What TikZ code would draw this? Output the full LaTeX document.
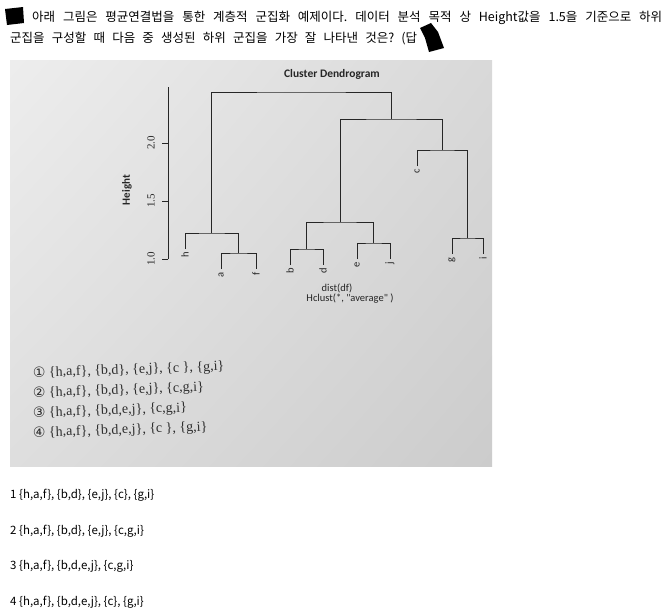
\documentclass[tikz,border=0pt]{standalone}
\usepackage{fontspec}
\usetikzlibrary{shadings}
\setmainfont{Liberation Serif}
\newfontfamily\kr{Noto Sans CJK KR}
\newfontfamily\dsans{Carlito}
\newfontfamily\circfont{DejaVu Sans}
\frenchspacing
\begin{document}
\begin{tikzpicture}[x=1pt,y=-1pt,
  dend/.style={draw=black!85, line width=0.85pt},
  leaflab/.style={font=\dsans\fontsize{10.5}{11}\selectfont, rotate=90, anchor=east, inner sep=0pt, text=black!85},
  ticklab/.style={font=\fontsize{11}{12}\selectfont, rotate=90, inner sep=0pt, text=black!85},
  qtext/.style={font=\kr\fontsize{12.5}{14}\selectfont, anchor=base west, inner sep=0pt},
  opt/.style={font=\kr\fontsize{11.5}{13}\selectfont, anchor=base west, inner sep=0pt},
  popt/.style={font=\fontsize{14}{16}\selectfont, anchor=base west, inner sep=0pt, rotate=2, text=black!82}]
\useasboundingbox (0,0) rectangle (669,614);
\fill[white] (0,0) rectangle (669,614);
% photo background
\shade[upper left=black!7, upper right=black!15, lower left=black!13, lower right=black!20] (10,60) rectangle (492,466);
% question text
\fill[black] (5,9) -- (23,7) -- (24,23) -- (7,25) -- cycle;
\node[qtext] (q1) at (32,21) {\makebox[630pt][s]{아래 그림은 평균연결법을 통한 계층적 군집화 예제이다. 데이터 분석 목적 상 Height값을 1.5을 기준으로 하위}};
\node[qtext] (q2) at (10,42) {\makebox[407pt][s]{군집을 구성할 때 다음 중 생성된 하위 군집을 가장 잘 나타낸 것은? (답}};
\fill[black] (420,28) -- (431,23) -- (438,32) -- (444,48) -- (429,52) -- (425,38) -- cycle;
% title
\node[font=\dsans\bfseries\fontsize{11.5}{13}\selectfont, text=black!85] (title) at (332,74) {Cluster Dendrogram};
% axis
\coordinate (ax0) at (168,259);
\coordinate (ax1) at (168,87);
\draw[dend] (ax0) -- (ax1);
\foreach \yy/\lab in {259/1.0, 201/1.5, 143/2.0}{
  \draw[dend] (168,\yy) -- (162,\yy);
  \node[ticklab] at (151,\yy) {\lab};
}
\node[font=\dsans\bfseries\fontsize{11}{12}\selectfont, rotate=90, text=black!85] (ylab) at (127,190) {Height};
% leaves
\coordinate (h) at (185,249);
\coordinate (a) at (221,269);
\coordinate (f) at (256,269);
\coordinate (b) at (290,265);
\coordinate (d) at (323,265);
\coordinate (e) at (357,259);
\coordinate (j) at (390,259);
\coordinate (c) at (417,166);
\coordinate (g) at (452,254);
\coordinate (i) at (483,254);
% merges
\coordinate (maf) at (238.5,253);
\coordinate (mhaf) at (211.75,233);
\coordinate (mbd) at (306.5,249);
\coordinate (mej) at (373.5,243);
\coordinate (mbdej) at (340,222);
\coordinate (mgi) at (467.5,238);
\coordinate (mcgi) at (442.25,150);
\coordinate (mr) at (391.1,119);
\coordinate (root) at (301.4,92);
\draw[dend] (a) |- (maf) -| (f);
\draw[dend] (h) |- (mhaf) -| (maf);
\draw[dend] (b) |- (mbd) -| (d);
\draw[dend] (e) |- (mej) -| (j);
\draw[dend] (mbd) |- (mbdej) -| (mej);
\draw[dend] (g) |- (mgi) -| (i);
\draw[dend] (c) |- (mcgi) -| (mgi);
\draw[dend] (mbdej) |- (mr) -| (mcgi);
\draw[dend] (mhaf) |- (root) -| (mr);
\foreach \n in {h,a,f,b,d,e,j,c,g,i}{
  \node[leaflab] (l\n) at ([yshift=-3pt]\n) {\n};
}
\node[font=\dsans\fontsize{10.5}{11}\selectfont, text=black!85] (xl1) at (337,288) {dist(df)};
\node[font=\dsans\fontsize{10.5}{11}\selectfont, text=black!85] (xl2) at (350,299) {Hclust(*, "average" )};
% options in photo
\node[popt] (p1) at (33,377) {{\circfont ①} \{h,a,f\}, \{b,d\}, \{e,j\}, \{c \}, \{g,i\}};
\node[popt] (p2) at (33,397) {{\circfont ②} \{h,a,f\}, \{b,d\}, \{e,j\}, \{c,g,i\}};
\node[popt] (p3) at (33,417) {{\circfont ③} \{h,a,f\}, \{b,d,e,j\}, \{c,g,i\}};
\node[popt] (p4) at (33,437) {{\circfont ④} \{h,a,f\}, \{b,d,e,j\}, \{c \}, \{g,i\}};
% options below
\node[opt] (o1) at (10,498) {1 \{h,a,f\}, \{b,d\}, \{e,j\}, \{c\}, \{g,i\}};
\node[opt] (o2) at (10,534) {2 \{h,a,f\}, \{b,d\}, \{e,j\}, \{c,g,i\}};
\node[opt] (o3) at (10,569) {3 \{h,a,f\}, \{b,d,e,j\}, \{c,g,i\}};
\node[opt] (o4) at (10,605) {4 \{h,a,f\}, \{b,d,e,j\}, \{c\}, \{g,i\}};
\end{tikzpicture}
\end{document}
